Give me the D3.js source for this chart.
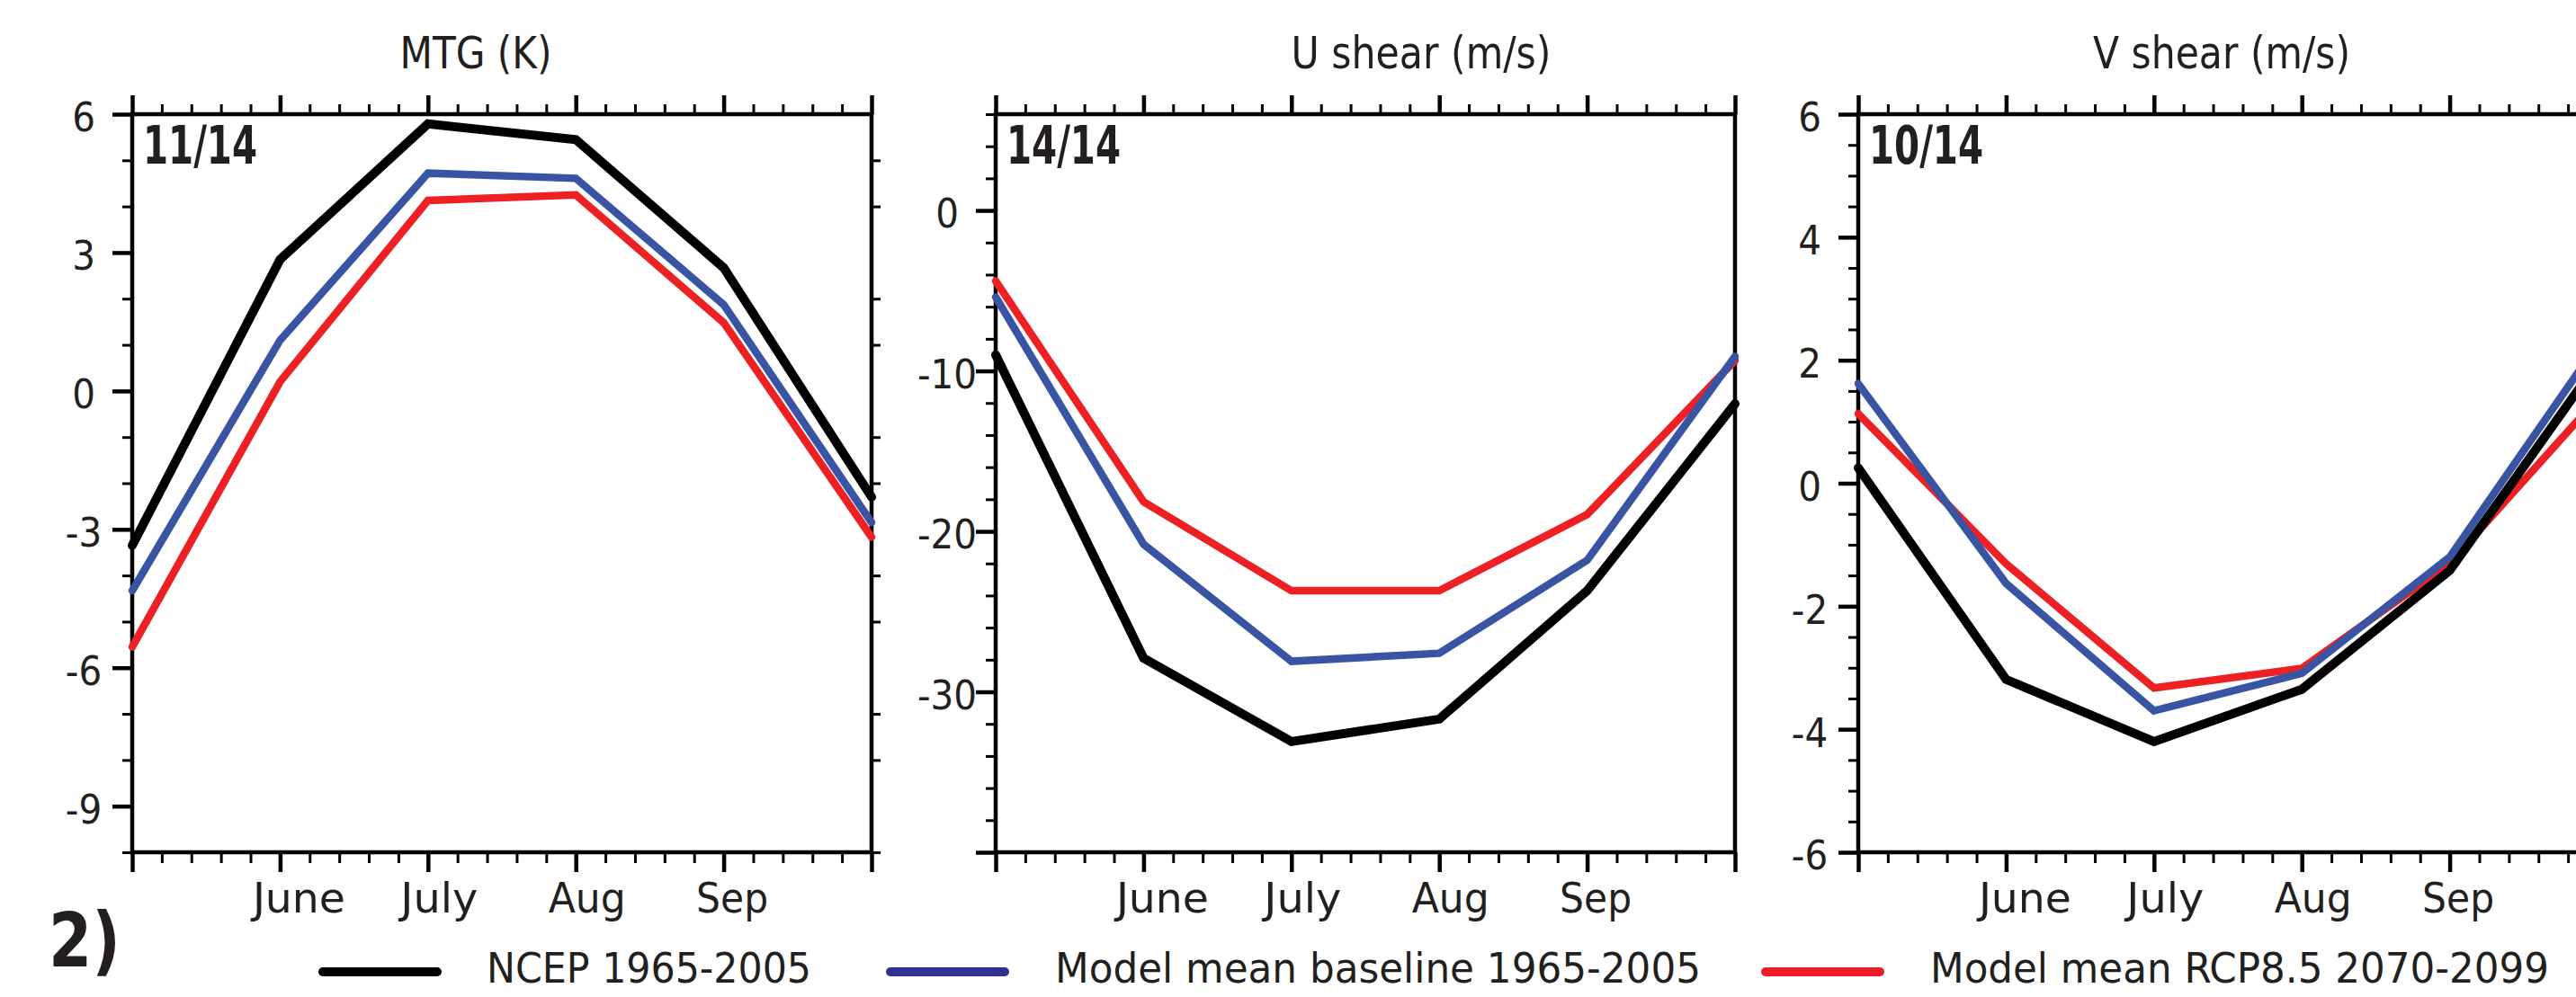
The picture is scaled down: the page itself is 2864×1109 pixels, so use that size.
<!DOCTYPE html>
<html>
<head>
<meta charset="utf-8">
<script src="https://cdn.jsdelivr.net/npm/d3@7"></script>
<style>
  body { margin: 0; background: #fff; }
  svg { display: block; }
  text { font-family: "Liberation Sans Narrow", "DejaVu Sans Condensed", "Liberation Sans", sans-serif; fill: #231f20; }
</style>
</head>
<body>
<svg id="chart" width="2864" height="1109"></svg>
<script>
// months on the x axis, only the inner four get a label
const months = ['May', 'June', 'July', 'Aug', 'Sep', 'Oct'];
const labelledMonths = ['June', 'July', 'Aug', 'Sep'];

const seriesNames = ['NCEP 1965-2005', 'Model mean baseline 1965-2005', 'Model mean RCP8.5 2070-2099'];

// MTG (K)
const mtgNcep = [-3.35, 2.85, 5.79, 5.45, 2.67, -2.3];
const mtgBase = [-4.33, 1.1, 4.72, 4.61, 1.87, -2.85];
const mtgRcp  = [-5.55, 0.2, 4.13, 4.25, 1.48, -3.17];

// U shear (m/s)
const uNcep = [-9.0, -27.9, -33.1, -31.7, -23.7, -12.05];
const uBase = [-5.4, -20.8, -28.1, -27.6, -21.8, -9.1];
const uRcp  = [-4.4, -18.15, -23.7, -23.7, -18.95, -9.35];

// V shear (m/s)
const vNcep = [0.25, -3.19, -4.2, -3.35, -1.42, 1.96];
const vBase = [1.62, -1.63, -3.7, -3.09, -1.2, 2.26];
const vRcp  = [1.13, -1.31, -3.33, -3.01, -1.3, 1.38];

const titles = ['MTG (K)', 'U shear (m/s)', 'V shear (m/s)'];
const scores = ['11/14', '14/14', '10/14'];

const mtgTicks = [6, 3, 0, -3, -6, -9];
const uTicks = [0, -10, -20, -30];
const vTicks = [6, 4, 2, 0, -2, -4, -6];

const panels = [
  { domain: [-10, 6], major: mtgTicks, labels: mtgTicks, minorStep: 1, rightTicks: true,
    ncep: mtgNcep, base: mtgBase, rcp: mtgRcp },
  { domain: [-40, 6], major: uTicks.concat([-40]), labels: uTicks, minorStep: 2, rightTicks: false,
    ncep: uNcep, base: uBase, rcp: uRcp },
  { domain: [-6, 6], major: vTicks, labels: vTicks, minorStep: 0.5, rightTicks: false,
    ncep: vNcep, base: vBase, rcp: vRcp }
];

///////////////////////////////////////////////////////////////
const svg = d3.select('#chart');

const W = 822, H = 821, plotTop = 127;
const panelLeft = [147, 1107, 2066];
const titleX = [529, 1580, 2470];
const titleLen = [169, 289, 286];

const lineColors = { ncep: '#000000', base: '#3a54a4', rcp: '#ed2024' };
const legendColors = ['#000000', '#2e3192', '#ed1c24'];

function styleAxis(sel, width)
{
  sel.attr('color', '#000');
  sel.select('.domain').remove();
  sel.selectAll('.tick line').attr('stroke-width', width);
}

function drawPanel(p, i)
{
  const g = svg.append('g').attr('transform', 'translate(' + panelLeft[i] + ',' + plotTop + ')');

  const x = d3.scaleLinear().domain([0, months.length - 1]).range([0, W]);
  const y = d3.scaleLinear().domain(p.domain).range([H, 0]);

  const xMajor = d3.range(months.length);
  const xMinor = d3.range(0, 26).filter(k => k % 5 !== 0).map(k => k / 5);

  const n = Math.round((p.domain[1] - p.domain[0]) / p.minorStep);
  const yMinor = d3.range(0, n + 1)
      .map(k => +(p.domain[0] + k * p.minorStep).toFixed(2))
      .filter(v => p.major.indexOf(v) < 0);

  // top axis
  g.append('g').call(d3.axisTop(x).tickValues(xMinor).tickSize(11).tickFormat(''))
      .call(styleAxis, 3);
  g.append('g').call(d3.axisTop(x).tickValues(xMajor).tickSize(21).tickFormat(''))
      .call(styleAxis, 4.5);

  // bottom axis with month names
  g.append('g').attr('transform', 'translate(0,' + H + ')')
      .call(d3.axisBottom(x).tickValues(xMinor).tickSize(12).tickFormat(''))
      .call(styleAxis, 3);
  const bottom = g.append('g').attr('transform', 'translate(0,' + H + ')')
      .call(d3.axisBottom(x).tickValues(xMajor).tickSize(22)
          .tickFormat(d => labelledMonths.indexOf(months[d]) >= 0 ? months[d] : ''))
      .call(styleAxis, 4.5);
  bottom.selectAll('.tick text')
      .attr('x', -31).attr('y', 67).attr('dy', null)
      .attr('text-anchor', 'start')
      .attr('font-size', 47)
      .attr('fill', '#231f20')
      .attr('textLength', d => ({ June: 103, July: 86, Aug: 86, Sep: 80 })[months[d]] || null)
      .attr('lengthAdjust', 'spacingAndGlyphs');

  // left axis
  g.append('g').call(d3.axisLeft(y).tickValues(yMinor).tickSize(11).tickFormat(''))
      .call(styleAxis, 3);
  const left = g.append('g')
      .call(d3.axisLeft(y).tickValues(p.major).tickSize(22)
          .tickFormat(d => p.labels.indexOf(d) >= 0 ? String(d) : ''))
      .call(styleAxis, 4.5);
  left.selectAll('.tick text')
      .attr('x', -54).attr('dy', '0.42em')
      .attr('text-anchor', 'middle')
      .attr('font-size', 45)
      .attr('fill', '#231f20');

  // right axis, only the first panel carries ticks there
  if(p.rightTicks)
  {
    g.append('g').attr('transform', 'translate(' + W + ',0)')
        .call(d3.axisRight(y).tickValues(yMinor).tickSize(10).tickFormat(''))
        .call(styleAxis, 3);
  }

  // frame
  g.append('rect')
      .attr('width', W).attr('height', H)
      .attr('fill', 'none').attr('stroke', '#000').attr('stroke-width', 4.5);

  // series: red first, then black, blue on top
  const line = d3.line().x((d, k) => x(k)).y(d => y(d));
  ['rcp', 'ncep', 'base'].forEach(key =>
  {
    g.append('path')
        .attr('d', line(p[key]))
        .attr('fill', 'none')
        .attr('stroke', lineColors[key])
        .attr('stroke-width', key === 'ncep' ? 10 : 8.5)
        .attr('stroke-linecap', 'round')
        .attr('stroke-linejoin', 'miter');
  });

  // score in the corner
  g.append('text')
      .attr('x', 12).attr('y', 55)
      .attr('font-size', 58).attr('font-weight', 'bold')
      .attr('textLength', 127).attr('lengthAdjust', 'spacingAndGlyphs')
      .text(scores[i]);

  // title
  svg.append('text')
      .attr('x', titleX[i]).attr('y', 76)
      .attr('text-anchor', 'middle')
      .attr('font-size', 49)
      .attr('textLength', titleLen[i]).attr('lengthAdjust', 'spacingAndGlyphs')
      .text(titles[i]);
}

panels.forEach(drawPanel);

// figure label
svg.append('text')
    .attr('x', 54).attr('y', 1075)
    .attr('font-size', 84).attr('font-weight', 'bold')
    .attr('textLength', 80).attr('lengthAdjust', 'spacingAndGlyphs')
    .text('2)');

// legend
const legendLineX = [359, 990, 1963];
const legendTextX = [541, 1173, 2146];
const legendTextLen = [361, 718, 688];

seriesNames.forEach((name, k) =>
{
  svg.append('line')
      .attr('x1', legendLineX[k]).attr('x2', legendLineX[k] + 127)
      .attr('y1', 1081).attr('y2', 1081)
      .attr('stroke', legendColors[k])
      .attr('stroke-width', 10)
      .attr('stroke-linecap', 'round');

  svg.append('text')
      .attr('x', legendTextX[k]).attr('y', 1093)
      .attr('font-size', 47)
      .attr('textLength', legendTextLen[k]).attr('lengthAdjust', 'spacingAndGlyphs')
      .text(name);
});
</script>
</body>
</html>
